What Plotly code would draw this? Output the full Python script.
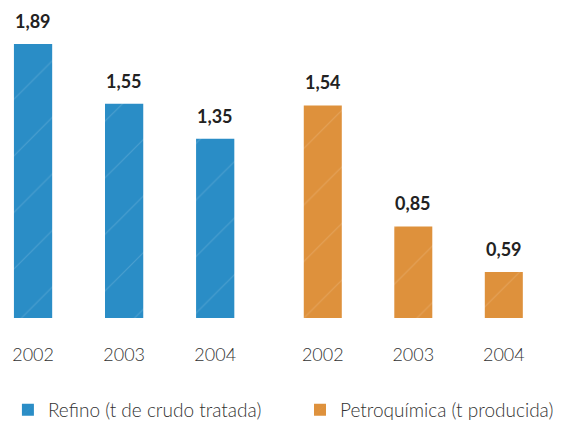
import plotly.graph_objects as go

years = ["2002", "2003", "2004"]
refino = [1.89, 1.55, 1.35]
petroquimica = [1.54, 0.85, 0.59]

names = ["Refino (t de crudo tratada)", "Petroquímica (t producida)"]
colors = ["#2a8dc6", "#de913c"]

fig = go.Figure()
fig.add_trace(go.Bar(x=years, y=refino, name=names[0], xaxis="x", yaxis="y", legend="legend",
                     marker=dict(color=colors[0], line=dict(width=0),
                                 pattern=dict(shape="/", fgcolor="rgba(255,255,255,0.3)",
                                              size=40, solidity=0.03)),
                     width=0.42))
fig.add_trace(go.Bar(x=years, y=petroquimica, name=names[1], xaxis="x2", yaxis="y", legend="legend2",
                     marker=dict(color=colors[1], line=dict(width=0),
                                 pattern=dict(shape="/", fgcolor="rgba(255,255,255,0.3)",
                                              size=40, solidity=0.03)),
                     width=0.42))

# value labels above bars
for xa, vals in [("x", refino), ("x2", petroquimica)]:
    for i, v in enumerate(vals):
        fig.add_annotation(x=i, y=v, xref=xa, yref="y", text="<b>" + f"{v:.2f}".replace(".", ",") + "</b>",
                           showarrow=False, yanchor="bottom", yshift=10,
                           font=dict(size=18, color="#222", family="Lato"))

axis_style = dict(type="category", showgrid=False, showline=False, zeroline=False,
                  ticks="", ticklabelstandoff=24,
                  tickfont=dict(size=18, color="#333", family="Lato", weight=300))
legend_style = dict(orientation="h", xanchor="left", y=-0.289, yanchor="middle",
                    font=dict(size=19, color="#333", family="Lato", weight=300))
fig.update_layout(
    width=565, height=421,
    margin=dict(l=0, r=0, t=0, b=103, autoexpand=False),
    plot_bgcolor="white", paper_bgcolor="white",
    xaxis=dict(domain=[0, 0.48], range=[-0.363, 2.615], **axis_style),
    xaxis2=dict(domain=[0.5, 1], range=[-0.445, 2.676], anchor="y", **axis_style),
    yaxis=dict(range=[0.328, 2.141], visible=False),
    showlegend=True,
    legend=dict(x=0.014, **legend_style),
    legend2=dict(x=0.531, **legend_style),
)

fig.write_html("out.html", config={"displayModeBar": False},
               post_script="document.body.style.margin='0';")
